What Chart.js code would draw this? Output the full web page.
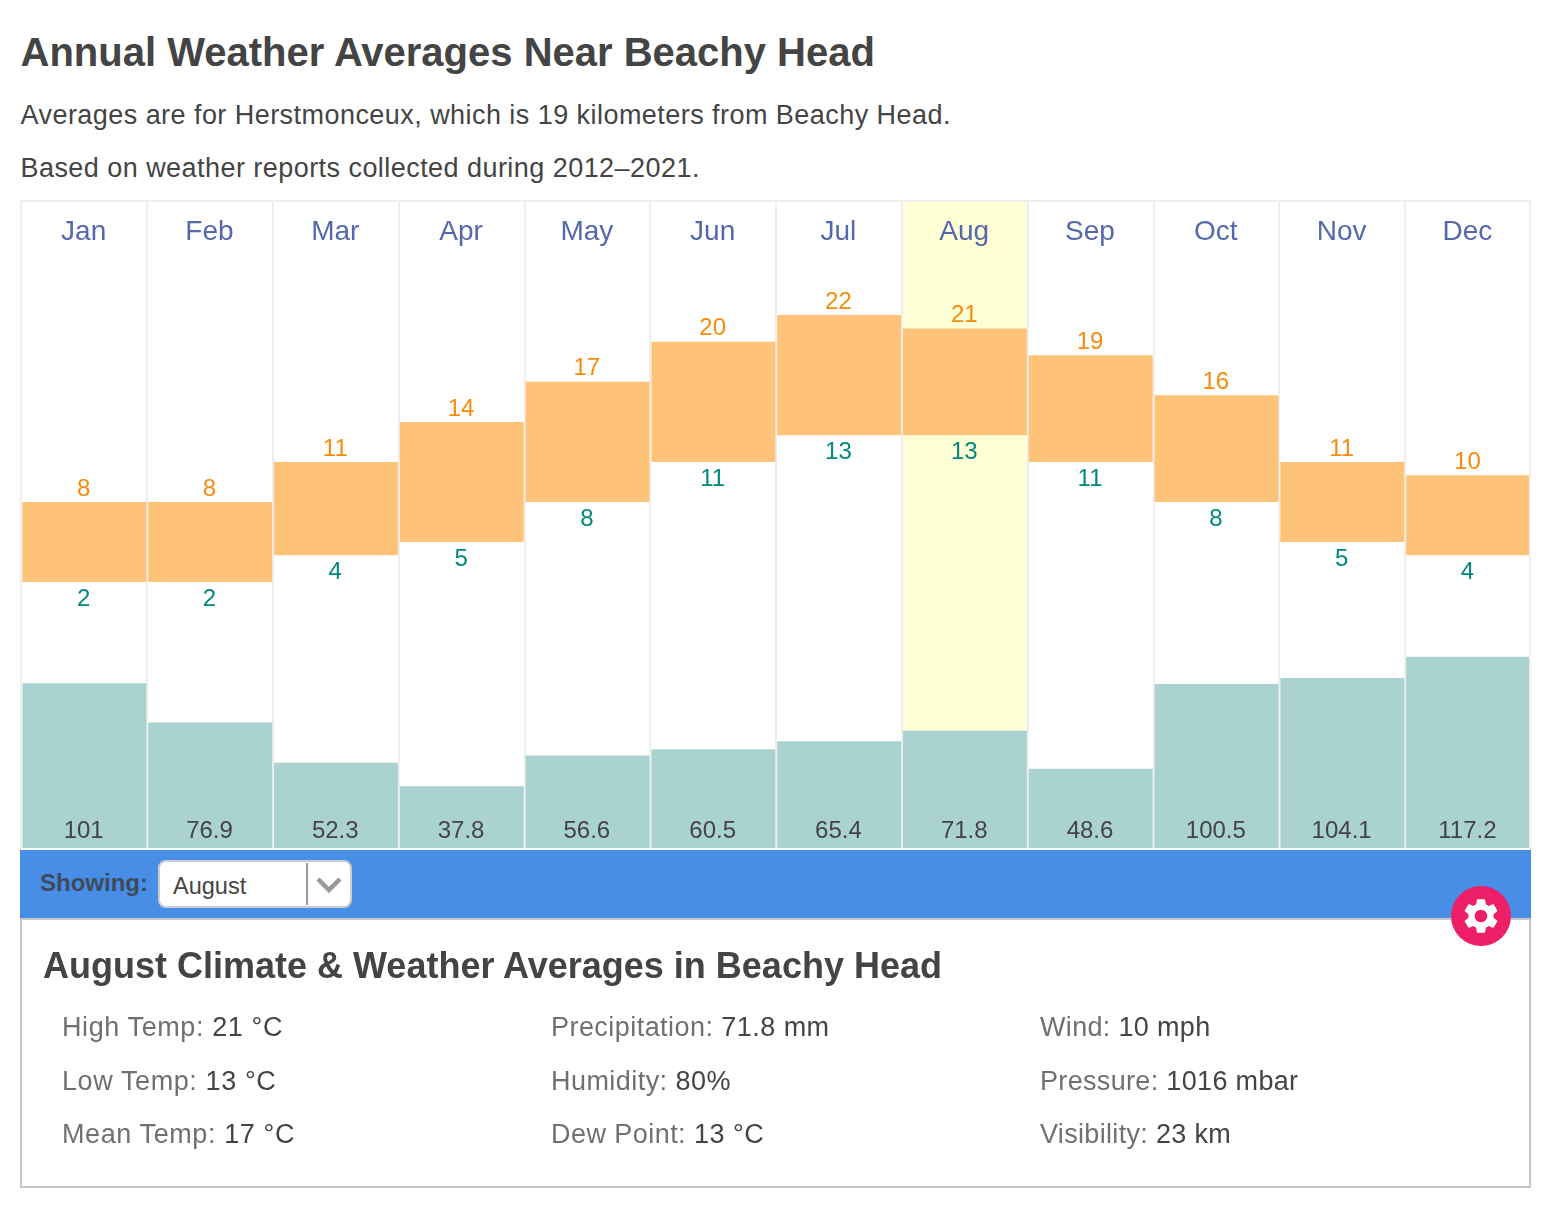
<!DOCTYPE html>
<html>
<head>
<meta charset="utf-8">
<title>Annual Weather Averages Near Beachy Head</title>
<script src="https://cdn.jsdelivr.net/npm/chart.js@4"></script>
<style>
  html, body { margin: 0; padding: 0; background: #fff; }
  body { width: 1548px; height: 1211px; position: relative; overflow: hidden;
         font-family: "Liberation Sans", Arial, sans-serif; color: #444; }
  .abs { position: absolute; white-space: nowrap; }
  h1, h2, p { margin: 0; }
  #title { left: 20.5px; top: 29px; font-size: 40px; line-height: 46px; font-weight: bold; color: #444; }
  .sub { left: 20.5px; font-size: 27px; line-height: 32px; color: #444; letter-spacing: 0.45px; }
  #frame { left: 20px; top: 200px; width: 1507px; height: 648px; border: 2px solid #eee; border-bottom: none; }
  #wrap { left: 20px; top: 200px; width: 1511px; height: 650px; }
  #bar { left: 20px; top: 850px; width: 1511px; height: 68px; background: #488de6; }
  #showing { left: 40px; top: 868px; font-size: 24px; line-height: 30px; font-weight: bold; color: #3f4a5c; }
  #select { left: 158px; top: 860px; width: 190px; height: 44px; background: #fff; border: 2px solid #ccc; border-radius: 8px; }
  #select span { position: absolute; left: 13px; top: 9px; font-size: 23.5px; line-height: 30px; color: #444; }
  #select i { position: absolute; left: 146px; top: 1px; width: 2px; height: 42px; background: #999; }
  #select svg { position: absolute; left: 155px; top: 13px; }
  #panel { left: 20px; top: 918px; width: 1507px; height: 266px; border: 2px solid #c8c8c8; }
  #heading { left: 43px; top: 945px; font-size: 36px; line-height: 42px; font-weight: bold; color: #444; }
  .info { font-size: 27px; line-height: 32px; color: #444; }
  .info b { font-weight: normal; color: #707070; }
  .col1 { left: 62px; letter-spacing: 0.6px; }
  .col2 { left: 551px; letter-spacing: 0.45px; }
  .col3 { left: 1040px; letter-spacing: 0.33px; }
  #gear { left: 1451px; top: 886px; }
</style>
</head>
<body>
<h1 class="abs" id="title">Annual Weather Averages Near Beachy Head</h1>
<p class="abs sub" style="top:99px">Averages are for Herstmonceux, which is 19 kilometers from Beachy Head.</p>
<p class="abs sub" style="top:152px">Based on weather reports collected during 2012–2021.</p>

<div class="abs" id="wrap"><canvas id="weather-chart" width="1511" height="650"></canvas></div>
<div class="abs" id="frame"></div>

<div class="abs" id="bar"></div>
<div class="abs" id="showing">Showing:</div>
<div class="abs" id="select">
  <span>August</span><i></i>
  <svg width="30" height="20" viewBox="0 0 30 20"><path d="M3 4 L14 15 L25 4" fill="none" stroke="#999" stroke-width="4.5"/></svg>
</div>

<div class="abs" id="panel"></div>
<h2 class="abs" id="heading">August Climate &amp; Weather Averages in Beachy Head</h2>
<div class="abs info col1" style="top:1011px"><b>High Temp:</b> 21 °C</div>
<div class="abs info col1" style="top:1065px"><b>Low Temp:</b> 13 °C</div>
<div class="abs info col1" style="top:1118px"><b>Mean Temp:</b> 17 °C</div>
<div class="abs info col2" style="top:1011px"><b>Precipitation:</b> 71.8 mm</div>
<div class="abs info col2" style="top:1065px"><b>Humidity:</b> 80%</div>
<div class="abs info col2" style="top:1118px"><b>Dew Point:</b> 13 °C</div>
<div class="abs info col3" style="top:1011px"><b>Wind:</b> 10 mph</div>
<div class="abs info col3" style="top:1065px"><b>Pressure:</b> 1016 mbar</div>
<div class="abs info col3" style="top:1118px"><b>Visibility:</b> 23 km</div>

<svg class="abs" id="gear" width="60" height="60" viewBox="0 0 60 60">
  <circle cx="30" cy="30" r="30" fill="#ee1f68"/>
  <g transform="translate(9,9) scale(1.75)">
    <path fill="#fff" d="M19.14 12.94c.04-.3.06-.61.06-.94 0-.32-.02-.64-.07-.94l2.03-1.58c.18-.14.23-.41.12-.61l-1.92-3.32c-.12-.22-.37-.29-.59-.22l-2.39.96c-.5-.38-1.03-.7-1.62-.94l-.36-2.54c-.04-.24-.24-.41-.48-.41h-3.84c-.24 0-.43.17-.47.41l-.36 2.54c-.59.24-1.13.57-1.62.94l-2.39-.96c-.22-.08-.47 0-.59.22L2.74 8.87c-.12.21-.08.47.12.61l2.03 1.58c-.05.3-.09.63-.09.94s.02.64.07.94l-2.03 1.58c-.18.14-.23.41-.12.61l1.92 3.32c.12.22.37.29.59.22l2.39-.96c.5.38 1.03.7 1.62.94l.36 2.54c.05.24.24.41.48.41h3.84c.24 0 .44-.17.47-.41l.36-2.54c.59-.24 1.13-.56 1.62-.94l2.39.96c.22.08.47 0 .59-.22l1.92-3.32c.12-.22.07-.47-.12-.61l-2.01-1.58zM12 15.6c-1.98 0-3.6-1.62-3.6-3.6s1.62-3.6 3.6-3.6 3.6 1.62 3.6 3.6-1.62 3.6-3.6 3.6z"/>
  </g>
</svg>

<script>
var months = ['Jan', 'Feb', 'Mar', 'Apr', 'May', 'Jun', 'Jul', 'Aug', 'Sep', 'Oct', 'Nov', 'Dec'];
var highTemps = [8, 8, 11, 14, 17, 20, 22, 21, 19, 16, 11, 10];
var lowTemps = [2, 2, 4, 5, 8, 11, 13, 13, 11, 8, 5, 4];
var precipitation = [101, 76.9, 52.3, 37.8, 56.6, 60.5, 65.4, 71.8, 48.6, 100.5, 104.1, 117.2];
var selectedMonth = 'Aug';

// scale ranges, picked so the bars land where they do in the picture
var tempMin = -17.925;
var tempMax = 30.55;
var precipMax = 396.4;

var tempRanges = months.map(function(m, i) {
  return [lowTemps[i], highTemps[i]];
});
var highlight = months.map(function(m) {
  return m === selectedMonth ? [tempMin, tempMax] : null;
});

// month names and the values above and below the bars
var valueLabels = {
  id: 'valueLabels',
  afterDatasetsDraw: function(chart) {
    var ctx = chart.ctx;
    var x = chart.scales.x;
    var y = chart.scales.y;
    ctx.save();
    ctx.textAlign = 'center';
    ctx.textBaseline = 'middle';
    months.forEach(function(m, i) {
      var px = x.getPixelForValue(i) - 0.7;
      ctx.font = '28px "Liberation Sans"';
      ctx.fillStyle = '#5567ad';
      ctx.fillText(x.getLabelForValue(i), px, chart.chartArea.top + 31);
      ctx.font = '24px "Liberation Sans"';
      ctx.fillStyle = '#f68b0b';
      ctx.fillText(highTemps[i], px, y.getPixelForValue(highTemps[i]) - 13);
      ctx.fillStyle = '#00897b';
      ctx.fillText(lowTemps[i], px, y.getPixelForValue(lowTemps[i]) + 17);
      ctx.fillStyle = '#444';
      ctx.fillText(precipitation[i], px, chart.chartArea.bottom - 17);
    });
    ctx.restore();
  }
};

new Chart(document.getElementById('weather-chart'), {
  type: 'bar',
  plugins: [valueLabels],
  data: {
    labels: months,
    datasets: [
      { data: tempRanges, yAxisID: 'y', backgroundColor: '#fec378', order: 1, categoryPercentage: 0.985 },
      { data: precipitation, yAxisID: 'y2', backgroundColor: '#a9d2d0', order: 2, categoryPercentage: 0.985 },
      { data: highlight, yAxisID: 'y', backgroundColor: '#ffffd6', order: 3, categoryPercentage: 0.985 }
    ]
  },
  options: {
    responsive: false,
    animation: false,
    devicePixelRatio: 1,
    layout: { padding: { left: 1.5, right: 0, top: 1, bottom: 2 } },
    datasets: { bar: { grouped: false, barPercentage: 1 } },
    plugins: { legend: { display: false }, tooltip: { enabled: false } },
    scales: {
      x: {
        position: 'top',
        afterFit: function(scale) { scale.height = 0; },
        grid: { color: '#eee', lineWidth: 2, drawTicks: false },
        border: { display: false },
        ticks: { display: false }
      },
      y: { display: false, min: tempMin, max: tempMax },
      y2: { display: false, min: 0, max: precipMax }
    }
  }
});
</script>
</body>
</html>
